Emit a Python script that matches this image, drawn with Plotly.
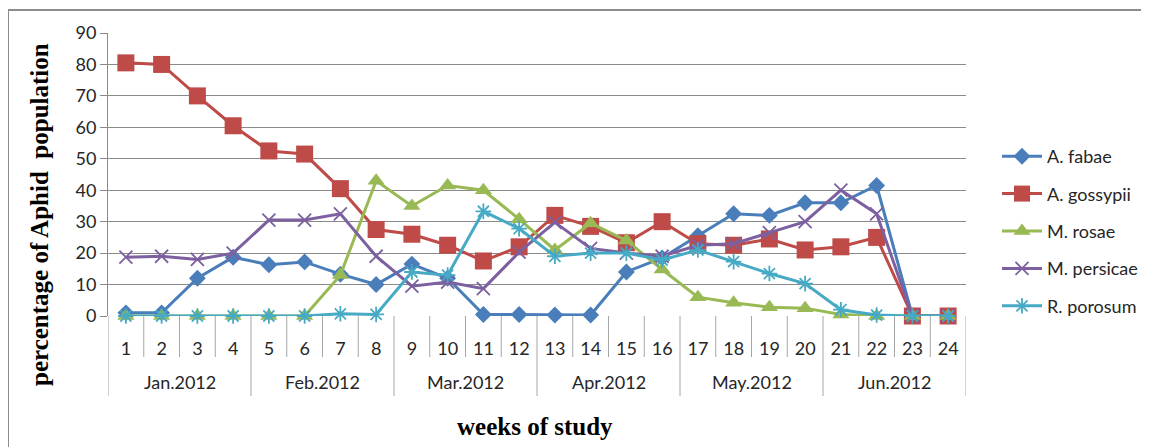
import plotly.graph_objects as go

weeks = list(range(1, 25))
week_labels = [str(w) for w in weeks]
months = ["Jan.2012", "Feb.2012", "Mar.2012", "Apr.2012", "May.2012", "Jun.2012"]
weeks_per_month = 4

a_fabae = [1, 1, 12, 18.7, 16.3, 17.2, 13.3, 10, 16.5, 12, 0.5, 0.5,
           0.3, 0.3, 14, 18.5, 25.5, 32.5, 32, 36, 36, 41.5, 0, 0]
a_gossypii = [80.5, 80, 70, 60.5, 52.5, 51.5, 40.5, 27.5, 26, 22.5, 17.5, 22,
              32, 28.5, 23.3, 30, 23, 22.5, 24.5, 21, 22, 25, 0, 0]
m_rosae = [0, 0, 0, 0, 0, 0, 13, 43, 35, 41.5, 40, 30.8,
           21, 29.5, 24, 14.8, 6, 4.2, 2.8, 2.5, 0.5, 0, 0, 0]
m_persicae = [18.7, 19, 18, 20, 30.5, 30.5, 32.5, 19, 9.5, 10.8, 8.7, 20.3,
              29.8, 21.5, 20, 19, 22.5, 23, 26.5, 30, 40, 32.5, 0, 0]
r_porosum = [0, 0, 0, 0, 0, 0, 0.7, 0.5, 14, 13, 33.3, 27.8,
             19, 20, 20, 17.8, 21, 17.3, 13.5, 10.3, 2, 0.3, 0, 0]

series = [
    ("A. fabae", a_fabae, "#4A7EBB", dict(symbol="diamond", size=13)),
    ("A. gossypii", a_gossypii, "#BE4B48", dict(symbol="square", size=17)),
    ("M. rosae", m_rosae, "#98B954", dict(symbol="triangle-up", size=15)),
    ("M. persicae", m_persicae, "#7D60A0", dict(symbol="x-thin-open", size=13,
                                                  line=dict(width=1.8, color="#7D60A0"))),
    ("R. porosum", r_porosum, "#46AAC5", dict(symbol="asterisk-open", size=13,
                                                line=dict(width=1.8, color="#46AAC5"))),
]

fig = go.Figure()
for name, vals, col, mk in series:
    fig.add_trace(go.Scatter(
        x=weeks, y=vals, name=name, mode="lines+markers",
        line=dict(color=col, width=3),
        marker=dict(color=col, **mk),
        cliponaxis=False, legendgroup=name,
    ))

# page is rendered with an 8px body margin; plot area target (page px): 108..966 x 33..316
PAD = 8
grid = "#8A8A8A"
txt = "#262626"
shapes = []
shapes.append(dict(type="rect", xref="paper", yref="paper",
                   x0=(8 - 108) / 858, x1=1.3, y0=-0.6, y1=(316 - 10) / 283,
                   line=dict(color="#8C8C8C", width=2), layer="below"))
week_row_bottom = (316 - 357) / 283
month_row_bottom = (316 - 396) / 283
n = len(weeks)
for k in range(n + 1):
    xb = k + 0.5
    ybot = month_row_bottom if k % weeks_per_month == 0 else week_row_bottom
    shapes.append(dict(type="line", xref="x", yref="paper", x0=xb, x1=xb,
                       y0=0, y1=ybot, line=dict(color="#A6A6A6", width=1)))

annotations = []
for i, m in enumerate(months):
    cx = i * weeks_per_month + (weeks_per_month + 1) / 2
    annotations.append(dict(x=cx, y=(316 - 382) / 283, xref="x", yref="paper",
                            text=m, showarrow=False, yanchor="middle",
                            font=dict(family="Lato", size=18, color=txt)))
annotations.append(dict(x=(535 - 108) / 858, y=(316 - 426) / 283, xref="paper", yref="paper",
                        text="<b>weeks of study</b>", showarrow=False, yanchor="middle",
                        font=dict(family="Liberation Serif", size=25, color="black")))
annotations.append(dict(x=(39 - 108) / 858, y=(316 - 215) / 283, xref="paper", yref="paper",
                        text="<b>percentage of Aphid  population</b>", showarrow=False,
                        textangle=-90, xanchor="center", yanchor="middle",
                        font=dict(family="Liberation Serif", size=25, color="black")))

fig.update_layout(
    width=1149 - PAD, height=447 - PAD,
    margin=dict(l=108 - PAD, r=183, t=33 - PAD, b=131, autoexpand=False),
    paper_bgcolor="white", plot_bgcolor="white",
    shapes=shapes, annotations=annotations,
    showlegend=True,
    legend=dict(x=(997 - 108) / 858, xanchor="left", y=(316 - 231) / 283, yanchor="middle",
                font=dict(family="Lato", size=18, color=txt),
                tracegroupgap=11, bgcolor="rgba(0,0,0,0)", itemwidth=40),
    xaxis=dict(range=[0.5, 24.5], tickmode="array", tickvals=weeks, ticktext=week_labels,
               ticks="outside", ticklen=16, tickcolor="rgba(0,0,0,0)",
               showgrid=False, zeroline=False, showline=False,
               tickfont=dict(family="Lato", size=18, color=txt)),
    yaxis=dict(range=[0, 90], dtick=10, tick0=0, showgrid=True, gridcolor=grid, gridwidth=1,
               zeroline=False, showline=True, linecolor=grid, linewidth=1,
               ticks="outside", ticklen=7, tickcolor=grid,
               tickfont=dict(family="Lato", size=18, color=txt)),
)

fig.write_html("out.html")
